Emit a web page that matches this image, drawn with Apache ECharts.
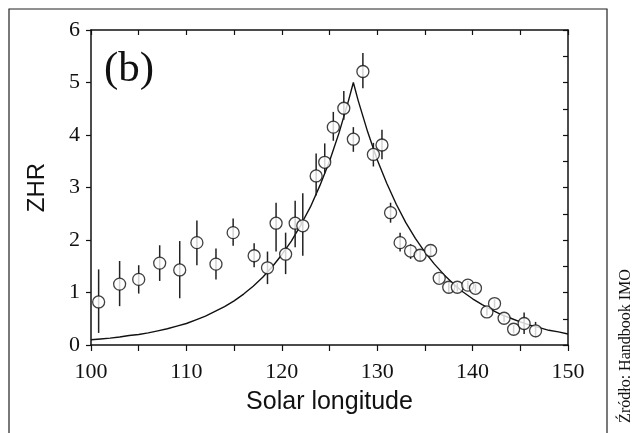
<!DOCTYPE html>
<html>
<head>
<meta charset="utf-8">
<script src="https://cdn.jsdelivr.net/npm/echarts@6/dist/echarts.min.js"></script>
<style>
html,body{margin:0;padding:0;background:#fff;}
#chart{width:635px;height:433px;}
</style>
</head>
<body>
<div id="chart"></div>
<script>
// Observed data points (solar longitude, ZHR) with error bar ends
var solarLongitude = [100.8,103.0,105.0,107.2,109.3,111.1,113.1,114.9,117.1,118.5,119.4,120.4,121.4,122.2,123.6,124.5,125.4,126.5,127.5,128.5,129.6,130.5,131.4,132.4,133.5,134.5,135.6,136.5,137.5,138.4,139.5,140.3,141.5,142.3,143.3,144.3,145.4,146.6];
var zhr = [0.82,1.16,1.25,1.56,1.43,1.95,1.54,2.14,1.70,1.47,2.32,1.73,2.32,2.27,3.22,3.48,4.15,4.51,3.92,5.21,3.63,3.81,2.52,1.95,1.79,1.71,1.80,1.27,1.10,1.10,1.14,1.08,0.63,0.79,0.51,0.30,0.41,0.27];
var errHigh = [1.44,1.60,1.52,1.90,1.98,2.37,1.84,2.41,1.94,1.78,2.71,2.14,2.75,2.89,3.65,3.84,4.44,4.84,4.15,5.56,3.85,4.10,2.71,2.14,1.92,1.82,1.90,1.36,1.20,1.18,1.22,1.16,0.70,0.87,0.58,0.38,0.62,0.44];
var errLow = [0.23,0.74,0.98,1.22,0.89,1.52,1.25,1.89,1.48,1.16,1.78,1.35,1.86,1.70,2.85,3.27,3.89,4.29,3.68,4.89,3.40,3.54,2.33,1.78,1.64,1.60,1.70,1.18,1.00,1.02,1.06,1.00,0.56,0.71,0.44,0.22,0.21,0.15];

// Model curve
var curveX = [100,101,102,103,104,105,106,107,108,109,110,111,112,113,114,115,116,117,118,119,120,121,122,123,124,125,126,127,127.5,128,129,130,131,132,133,134,135,136,137,138,139,140,141,142,143,144,145,146,147,148,149,150];
var curveY = [0.10,0.115,0.13,0.153,0.18,0.20,0.23,0.27,0.31,0.36,0.41,0.48,0.55,0.64,0.73,0.84,0.97,1.12,1.29,1.49,1.72,1.98,2.29,2.63,3.04,3.50,4.04,4.66,5.00,4.66,4.06,3.53,3.08,2.68,2.33,2.03,1.77,1.54,1.34,1.16,1.01,0.88,0.77,0.67,0.58,0.51,0.44,0.38,0.33,0.28,0.25,0.21];

// Axis ticks
var xTicks = [100,110,120,130,140,150];
var yTicks = [0,1,2,3,4,5,6];

var pts = solarLongitude.map(function(x,i){return [x, zhr[i]];});
var errs = solarLongitude.map(function(x,i){return [x, errLow[i], errHigh[i]];});
var curve = curveX.map(function(x,i){return [x, curveY[i]];});

var ink = '#111';
var serif = '"Liberation Serif", "Times New Roman", serif';
var sans = '"Liberation Sans", Arial, sans-serif';

var chart = echarts.init(document.getElementById('chart'));
chart.setOption({
  animation:false,
  backgroundColor:'#fff',
  grid:{left:91,right:67,top:30,bottom:88},
  xAxis:[{
    type:'value', position:'bottom', min:xTicks[0], max:xTicks[xTicks.length-1], interval:10,
    name:'Solar longitude', nameLocation:'middle', nameGap:45,
    nameTextStyle:{fontFamily:sans,fontSize:25,color:ink},
    axisLine:{show:true,onZero:false,lineStyle:{color:ink,width:1.5}},
    axisTick:{show:true,inside:false,length:6,lineStyle:{color:ink,width:1.2}},
    minorTick:{show:true,splitNumber:2,length:6,lineStyle:{color:ink,width:1.2}},
    axisLabel:{fontFamily:serif,fontSize:22,color:ink,margin:16},
    splitLine:{show:false}
  },{
    type:'value', position:'top', min:100, max:150, interval:5,
    axisLine:{show:true,onZero:false,lineStyle:{color:ink,width:1.5}},
    axisTick:{show:true,inside:true,length:5,lineStyle:{color:ink,width:1.2}},
    axisLabel:{show:false}, splitLine:{show:false}
  }],
  yAxis:[{
    type:'value', position:'left', min:yTicks[0], max:yTicks[yTicks.length-1], interval:1,
    name:'ZHR', nameLocation:'middle', nameGap:42, nameRotate:90,
    nameTextStyle:{fontFamily:sans,fontSize:24,color:ink},
    axisLine:{show:true,onZero:false,lineStyle:{color:ink,width:1.5}},
    axisTick:{show:true,inside:false,length:5,lineStyle:{color:ink,width:1.2}},
    axisLabel:{fontFamily:serif,fontSize:22,color:ink,margin:11},
    splitLine:{show:false}
  },{
    type:'value', position:'right', min:0, max:6, interval:0.5,
    axisLine:{show:true,onZero:false,lineStyle:{color:ink,width:1.5}},
    axisTick:{show:true,inside:true,length:5,lineStyle:{color:ink,width:1.2}},
    axisLabel:{show:false}, splitLine:{show:false}
  }],
  graphic:[
    {type:'text', left:104, top:48, style:{text:'(b)', fontFamily:serif, fontSize:43, fill:ink}},
    {type:'text', x:626, y:346, rotation:Math.PI/2, style:{text:'Źródło: Handbook IMO', fontFamily:serif, fontSize:16, fill:ink, align:'center', verticalAlign:'middle'}},
    {type:'polyline', shape:{points:[[9,433],[9,9],[607,9],[607,433]]}, style:{stroke:'#222', lineWidth:1.2, fill:null}}
  ],
  series:[
    {
      type:'line', data:curve, xAxisIndex:0, yAxisIndex:0, showSymbol:false, smooth:false,
      lineStyle:{color:ink,width:1.4}, z:2, silent:true
    },
    {
      type:'custom', data:errs, xAxisIndex:0, yAxisIndex:0, z:3,
      encode:{x:0,y:[1,2]},
      renderItem:function(params, api){
        var x = api.value(0);
        var p1 = api.coord([x, api.value(1)]);
        var p2 = api.coord([x, api.value(2)]);
        return {type:'line', shape:{x1:p1[0],y1:p1[1],x2:p2[0],y2:p2[1]}, style:{stroke:'#222',lineWidth:1.5}};
      }
    },
    {
      type:'scatter', data:pts, xAxisIndex:0, yAxisIndex:0, z:4,
      symbol:'circle', symbolSize:12,
      itemStyle:{color:'#fff', borderColor:ink, borderWidth:1.3}
    }
  ]
});
</script>
</body>
</html>
